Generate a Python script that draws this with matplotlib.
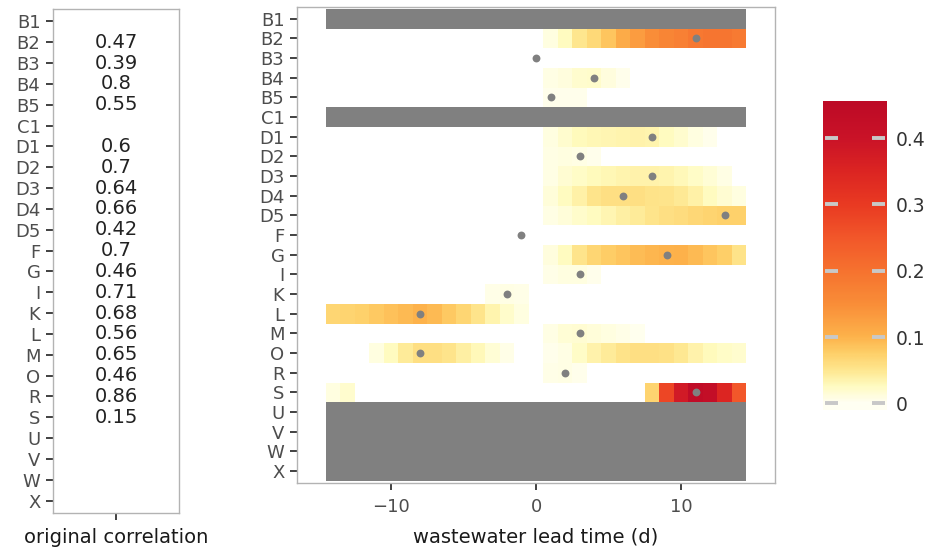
import numpy as np
import matplotlib
matplotlib.use("Agg")
import matplotlib.pyplot as plt
from matplotlib.colors import LinearSegmentedColormap, Normalize

###########################################
# Data
###########################################

rows = ['B1', 'B2', 'B3', 'B4', 'B5', 'C1', 'D1', 'D2', 'D3', 'D4', 'D5', 'F',
        'G', 'I', 'K', 'L', 'M', 'O', 'R', 'S', 'U', 'V', 'W', 'X']

# original correlation per row (None = no value)
orig_corr = [None, 0.47, 0.39, 0.8, 0.55, None, 0.6, 0.7, 0.64, 0.66, 0.42, 0.7,
             0.46, 0.71, 0.68, 0.56, 0.65, 0.46, 0.86, 0.15, None, None, None, None]

# rows without data (drawn grey)
missing_rows = ['B1', 'C1', 'U', 'V', 'W', 'X']

# lag of the maximum (grey dot)
peak_lag = [None, 11, 0, 4, 1, None, 8, 3, 8, 6, 13, -1,
            9, 3, -2, -8, 3, -8, 2, 11, None, None, None, None]

# heat values: row -> list of (first lag, values)
heat_segments = {
    'B2': [(1, [0.01, 0.025, 0.05, 0.065, 0.085, 0.11, 0.13, 0.15, 0.165, 0.175,
                0.19, 0.195, 0.195, 0.185])],
    'B4': [(1, [0.008, 0.012, 0.018, 0.02, 0.012, 0.004])],
    'B5': [(1, [0.005, 0.005, 0.004])],
    'D1': [(1, [0.009, 0.019, 0.027, 0.031, 0.033, 0.035, 0.036, 0.034, 0.026,
                0.018, 0.01, 0.005])],
    'D2': [(1, [0.008, 0.01, 0.008, 0.004])],
    'D3': [(1, [0.008, 0.016, 0.023, 0.028, 0.031, 0.034, 0.036, 0.037, 0.034,
                0.029, 0.023, 0.015, 0.008])],
    'D4': [(1, [0.014, 0.025, 0.038, 0.052, 0.058, 0.058, 0.057, 0.055, 0.052,
                0.047, 0.038, 0.026, 0.016, 0.01])],
    'D5': [(1, [0.008, 0.014, 0.02, 0.026, 0.033, 0.04, 0.046, 0.052, 0.057,
                0.062, 0.066, 0.07, 0.073, 0.073])],
    'G': [(1, [0.012, 0.026, 0.053, 0.068, 0.078, 0.085, 0.091, 0.097, 0.1,
               0.102, 0.094, 0.085, 0.075, 0.055])],
    'I': [(1, [0.007, 0.01, 0.01, 0.005])],
    'K': [(-3, [0.007, 0.008, 0.007])],
    'L': [(-14, [0.068, 0.07, 0.073, 0.08, 0.088, 0.094, 0.1, 0.094, 0.08,
                 0.068, 0.052, 0.034, 0.021, 0.01])],
    'M': [(1, [0.008, 0.015, 0.016, 0.013, 0.01, 0.006, 0.003])],
    'O': [(-11, [0.01, 0.025, 0.045, 0.058, 0.058, 0.052, 0.04, 0.029, 0.015, 0.007]),
          (1, [0.005, 0.008, 0.022, 0.036, 0.046, 0.055, 0.057, 0.057, 0.056,
               0.048, 0.036, 0.028, 0.022, 0.018])],
    'R': [(1, [0.006, 0.008, 0.005])],
    'S': [(-14, [0.01, 0.018]),
          (8, [0.07, 0.28, 0.38, 0.44, 0.43, 0.35, 0.25])],
}

lags = np.arange(-14, 15)
x_ticks = [-10, 0, 10]
cbar_ticks = [0, 0.1, 0.2, 0.3, 0.4]
cbar_labels = ['0', '0.1', '0.2', '0.3', '0.4']

###########################################
# Colour scale (YlOrRd like)
###########################################

vmax = 0.455
cstops = [0, 0.025, 0.05, 0.075, 0.10, 0.15, 0.20, 0.25, 0.30, 0.35, 0.40, 0.455]
ccols = ['#fffff2', '#fffbc0', '#fee68e', '#fecf68', '#fdb24b', '#f98d38',
         '#f6722f', '#f2572a', '#e93a22', '#dc2522', '#ca1328', '#bd0a26']
cmap = LinearSegmentedColormap.from_list(
    'ylorrd', [(s / vmax, c) for s, c in zip(cstops, ccols)])
norm = Normalize(0, vmax)

# build grid
grid = np.full((len(rows), len(lags)), np.nan)
for r, segs in heat_segments.items():
    i = rows.index(r)
    for start, vals in segs:
        j = int(np.where(lags == start)[0][0])
        grid[i, j:j + len(vals)] = vals

###########################################
# Plot
###########################################

plt.rcParams['font.family'] = 'DejaVu Sans'
fig = plt.figure(figsize=(9.25, 5.52), dpi=100)

tick_col = '#4d4d4d'
border_col = '#b3b3b3'

# left panel: original correlation
ax0 = fig.add_axes([53 / 925, 1 - 513 / 552, 126 / 925, 504 / 552])
ypos = np.arange(len(rows))
for y, v in zip(ypos, orig_corr):
    if v is not None:
        ax0.text(0, y, f'{v:g}', ha='center', va='center', fontsize=14, color='#222222')
ax0.set_xlim(-0.6, 0.6)
ax0.set_ylim(len(rows) - 0.4, -0.6)
ax0.set_yticks(ypos)
ax0.set_yticklabels(rows)
ax0.set_xticks([0])
ax0.set_xticklabels([''])
ax0.set_xlabel('original correlation', fontsize=14, color='#1a1a1a', labelpad=2)

# right panel: heatmap
ax = fig.add_axes([297 / 925, 1 - 482.8 / 552, 478 / 925, 475.8 / 552])
miss_y = [rows.index(r) for r in missing_rows]
ax.barh(miss_y, width=len(lags), left=lags[0] - 0.5, height=1.0, color='#808080', zorder=1)
xe = np.append(lags - 0.5, lags[-1] + 0.5)
ye = np.arange(len(rows) + 1) - 0.5
ax.pcolormesh(xe, ye, np.ma.masked_invalid(grid), cmap=cmap, norm=norm, zorder=2)
pk = [(l, y) for y, l in zip(ypos, peak_lag) if l is not None]
ax.scatter([p[0] for p in pk], [p[1] for p in pk], s=32, color='#808080', zorder=3, linewidths=0)
ax.set_xlim(-16.48, 16.48)
ax.set_ylim(len(rows) - 0.4, -0.6)
ax.set_yticks(ypos)
ax.set_yticklabels(rows)
ax.set_xticks(x_ticks)
ax.set_xlabel('wastewater lead time (d)', fontsize=14, color='#1a1a1a', labelpad=8)

for a in (ax0, ax):
    for s in a.spines.values():
        s.set_color(border_col)
        s.set_linewidth(1.0)
    a.tick_params(length=5, width=1.3, color='#333333', labelcolor=tick_col,
                  labelsize=13, pad=4)
ax.tick_params(axis='x', pad=6)

# colour bar
cax = fig.add_axes([823 / 925, 1 - 410 / 552, 64 / 925, 309.3 / 552])
grad = np.linspace(-0.0098, 0.4562, 300).reshape(-1, 1)
cax.imshow(grad, extent=[0, 1, -0.0098, 0.4562], origin='lower', aspect='auto',
           cmap=cmap, norm=norm)
cax.set_xlim(0, 1)
cax.set_ylim(-0.0098, 0.4562)
for t in cbar_ticks:
    cax.plot([0.03, 0.24], [t, t], color='#c8c8c8', lw=2.8, solid_capstyle='butt')
    cax.plot([0.76, 0.97], [t, t], color='#c8c8c8', lw=2.8, solid_capstyle='butt')
cax.yaxis.tick_right()
cax.set_yticks(cbar_ticks)
cax.set_yticklabels(cbar_labels)
cax.set_xticks([])
cax.tick_params(length=0, pad=6, labelsize=13.5, labelcolor='#333333')
for s in cax.spines.values():
    s.set_visible(False)

fig.savefig('out.png', dpi=100)
